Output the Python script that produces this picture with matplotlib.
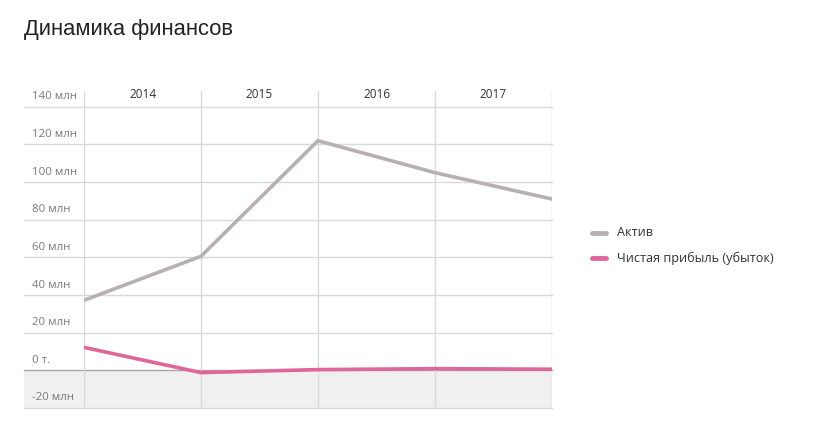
import matplotlib.pyplot as plt
import matplotlib.transforms as mtransforms

years = ["2014", "2015", "2016", "2017"]
aktiv = [37.2, 60.6, 122.0, 105.0, 91.0]
profit = [12.2, -1.2, 0.4, 0.9, 0.6]
y_ticks = [-20, 0, 20, 40, 60, 80, 100, 120, 140]
y_labels = ["-20 млн", "0 т.", "20 млн", "40 млн", "60 млн", "80 млн",
            "100 млн", "120 млн", "140 млн"]
series_names = ["Актив", "Чистая прибыль (убыток)"]

plt.rcParams["font.family"] = ["Open Sans", "DejaVu Sans"]

W, H = 814, 437
fig = plt.figure(figsize=(W / 100, H / 100), dpi=100)
x0, x1, ytop, ybot = 84, 552, 91, 408
ax = fig.add_axes([x0 / W, (H - ybot) / H, (x1 - x0) / W, (ybot - ytop) / H])
ax.set_xlim(0, len(aktiv) - 1)
ax.set_ylim(-20, 148.4)
for s in ax.spines.values():
    s.set_visible(False)
ax.set_xticks([])
ax.set_yticks([])

blend = mtransforms.blended_transform_factory(ax.transAxes, ax.transData)
left = -(x0 - 24) / (x1 - x0)

# negative area
ax.fill_between([left, 1], -20, 0, color="#f0f0f0", transform=blend,
                clip_on=False, zorder=0, lw=0)

# horizontal grid and labels
for v, lab in zip(y_ticks, y_labels):
    col = "#a8a8a8" if v == 0 else "#dadada"
    ax.plot([left, 1], [v, v], color=col, lw=1, transform=blend,
            clip_on=False, zorder=1)
    ax.text(-(x0 - 32) / (x1 - x0), v + 2.4, lab, transform=blend,
            ha="left", va="bottom", fontsize=8.2, color="#7a7a7a")

# vertical grid
for i in range(len(aktiv)):
    ax.axvline(i, color="#dadada", lw=1, zorder=1)

# year labels
for i, y in enumerate(years):
    ax.text(i + 0.5, 146.5, y, ha="center", va="center",
            fontsize=8.5, color="#333333")

ax.plot(range(len(aktiv)), aktiv, color="#b7b0b2", lw=2.6,
        solid_joinstyle="miter", zorder=3)
ax.plot(range(len(profit)), profit, color="#e06599", lw=2.6,
        solid_joinstyle="miter", zorder=3)

# title
fig.text(24 / W, 1 - 30 / H, "Динамика финансов", fontsize=15.8,
         color="#222222", va="center", ha="left", family="Liberation Sans")

# legend
for k, (name, col) in enumerate(zip(series_names, ["#b7b0b2", "#e06599"])):
    yy = 1 - (233 + 25 * k) / H
    fig.add_artist(plt.Line2D([592 / W, 606 / W], [yy, yy], color=col,
                              lw=3.5, solid_capstyle="round"))
    fig.text(617 / W, yy, name, fontsize=9.1, color="#333333",
             va="center", ha="left")

fig.savefig("out.png", dpi=100)
